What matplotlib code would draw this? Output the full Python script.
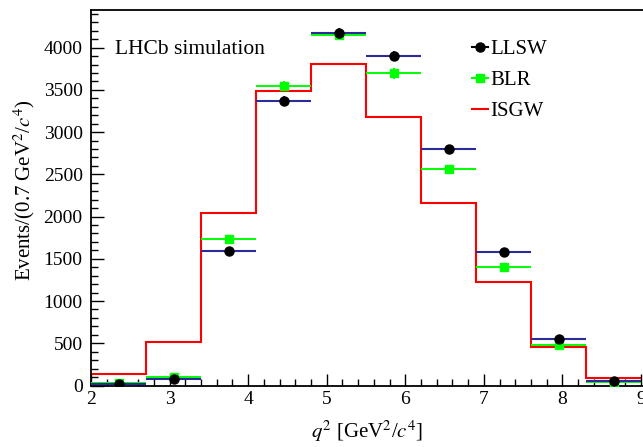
import numpy as np
import matplotlib
matplotlib.use("Agg")
import matplotlib.pyplot as plt
from matplotlib.ticker import MultipleLocator
from matplotlib.lines import Line2D

plt.rcParams['font.family'] = ['Liberation Serif', 'DejaVu Serif']
plt.rcParams['mathtext.fontset'] = 'stix'

# bin edges and centres in q^2 [GeV^2/c^4]
edges = [2.0, 2.7, 3.4, 4.1, 4.8, 5.5, 6.2, 6.9, 7.6, 8.3, 9.0]
centers = [2.35, 3.05, 3.75, 4.45, 5.15, 5.85, 6.55, 7.25, 7.95, 8.65]
half_width = 0.35

llsw = [20, 80, 1590, 3370, 4170, 3900, 2800, 1585, 550, 55]
llsw_err = [5, 9, 40, 58, 65, 62, 53, 40, 23, 7]
blr = [30, 100, 1740, 3545, 4150, 3695, 2560, 1400, 480, 42]
blr_err = [5, 10, 42, 60, 64, 61, 51, 37, 22, 6]
isgw = [140, 518, 2040, 3485, 3810, 3180, 2155, 1230, 453, 90]

fig = plt.figure(figsize=(6.43, 4.47), dpi=100)
ax = fig.add_axes([91/643, 1-385.5/447, 1-91/643, 375.5/447])

ax.stairs(isgw, edges, baseline=None, color='#ff0000', lw=1.5, zorder=2)
ax.errorbar(centers, blr, xerr=half_width, yerr=blr_err, fmt='s', color='#00ee00',
            ecolor='#00ff00', elinewidth=1.4, ms=6, mec='#00ff00', mfc='#00ff00',
            capsize=0, zorder=3)
ax.errorbar(centers, llsw, xerr=half_width, yerr=llsw_err, fmt='o', color='black',
            ecolor='#2a2a99', elinewidth=1.5, ms=6.5, capsize=0, zorder=4)

ax.set_xlim(2, 9.025)
ax.set_ylim(0, 4446)

ax.xaxis.set_major_locator(MultipleLocator(1))
ax.xaxis.set_minor_locator(MultipleLocator(0.2))
ax.yaxis.set_major_locator(MultipleLocator(500))
ax.yaxis.set_minor_locator(MultipleLocator(100))
ax.tick_params(which='both', direction='in', width=1.0, labelsize=14)
ax.tick_params(which='major', length=9)
ax.tick_params(which='minor', length=5)
ax.tick_params(axis='y', pad=6)
ax.tick_params(axis='x', pad=4)
ax.spines['right'].set_visible(False)
for s in ['left', 'bottom', 'top']:
    ax.spines[s].set_linewidth(1.3)

ax.set_xlabel(r'$q^2$ [GeV$^2$/$c^4$]', fontsize=15)
ax.xaxis.set_label_coords(0.5, -0.088)
ax.set_ylabel(r'Events/(0.7 GeV$^2$/$c^4$)', fontsize=15)
ax.yaxis.set_label_coords(-0.098, 0.52)

ax.text(0.043, 0.896, 'LHCb simulation', transform=ax.transAxes, fontsize=15.5,
        va='center', ha='left')

handles = [
    Line2D([], [], color='black', marker='o', ms=6.5, lw=1.5),
    Line2D([], [], color='#00ff00', marker='s', ms=6, lw=1.5),
    Line2D([], [], color='#ff0000', lw=1.5),
]
ax.legend(handles, ['LLSW', 'BLR', 'ISGW'], loc='upper left',
          bbox_to_anchor=(0.69, 0.921), frameon=False, fontsize=15,
          handlelength=0.75, handletextpad=0.15, labelspacing=0.55,
          borderpad=0, borderaxespad=0)

fig.savefig('out.png', dpi=100)
